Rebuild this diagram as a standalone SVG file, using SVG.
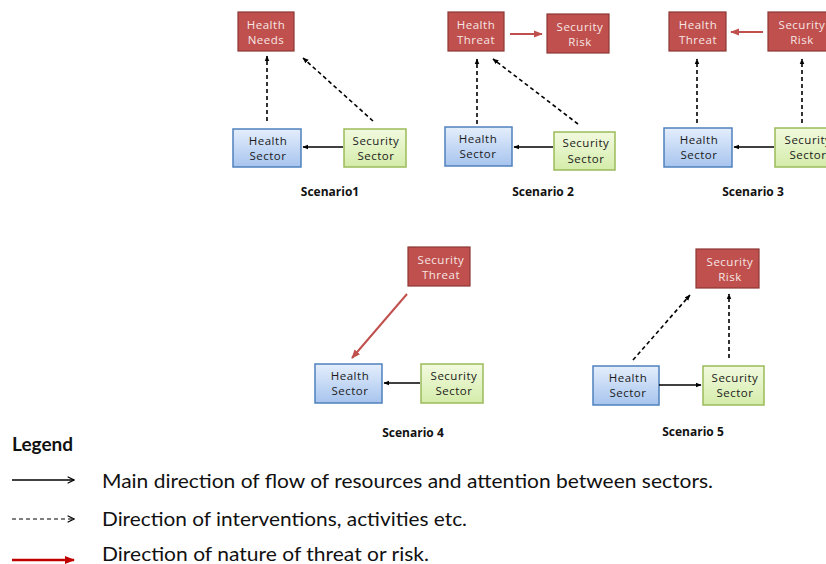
<svg xmlns="http://www.w3.org/2000/svg" width="826" height="564" viewBox="0 0 826 564">
<defs>
<linearGradient id="gb" x1="0" y1="0" x2="0" y2="1"><stop offset="0" stop-color="#e4eefc"/><stop offset="1" stop-color="#a7c4ee"/></linearGradient>
<linearGradient id="gg" x1="0" y1="0" x2="0" y2="1"><stop offset="0" stop-color="#f2fadf"/><stop offset="1" stop-color="#d4ecaa"/></linearGradient>
<marker id="ab" viewBox="0 0 10 10" refX="9" refY="5" markerWidth="6" markerHeight="6" orient="auto" markerUnits="userSpaceOnUse"><path d="M0,1 L10,5 L0,9 z" fill="#000"/></marker>
<marker id="ar" viewBox="0 0 10 10" refX="9" refY="5" markerWidth="9" markerHeight="9" orient="auto" markerUnits="userSpaceOnUse"><path d="M0,1 L10,5 L0,9 z" fill="#c0504d"/></marker>
<marker id="aopen" viewBox="0 0 10 10" refX="9" refY="5" markerWidth="8" markerHeight="8" orient="auto" markerUnits="userSpaceOnUse"><path d="M1,1 L9,5 L1,9" fill="none" stroke="#000" stroke-width="1.4"/></marker>
<marker id="ad" viewBox="0 0 10 10" refX="9" refY="5" markerWidth="10" markerHeight="10" orient="auto" markerUnits="userSpaceOnUse"><path d="M0,1 L10,5 L0,9 z" fill="#c00000"/></marker>
</defs>
<style>
.red{fill:#c0504d;stroke:#8c3836;stroke-width:1.2}
.blue{fill:url(#gb);stroke:#4f81bd;stroke-width:1.5}
.green{fill:url(#gg);stroke:#9bbb59;stroke-width:1.5}
.t{font-family:"Open Sans","Liberation Sans",sans-serif;font-size:11.5px;text-anchor:middle;letter-spacing:0.5px}
.tw{fill:#f6e6e5}
.tk{fill:#1a1a1a}
.sc{font-family:"Open Sans","Liberation Sans",sans-serif;font-size:12px;font-weight:bold;text-anchor:middle;fill:#111}
.solid{stroke:#000;stroke-width:1.5;fill:none;marker-end:url(#ab)}
.dash{stroke:#000;stroke-width:1.6;fill:none;stroke-dasharray:4,3;marker-end:url(#ab)}
.rarr{stroke:#c0504d;stroke-width:2;fill:none;marker-end:url(#ar)}
.leg{font-family:Lato,"Liberation Sans",sans-serif;font-size:19px;fill:#111}
</style>

<!-- Scenario 1 -->
<g id="s1-needs"><rect class="red" x="238" y="12" width="56" height="39"/><text class="t tw" x="266" y="29">Health</text><text class="t tw" x="266" y="44">Needs</text></g>
<g id="s1-health"><rect class="blue" x="233" y="129" width="68" height="38"/><text class="t tk" x="268" y="145">Health</text><text class="t tk" x="268" y="160">Sector</text></g>
<g id="s1-security"><rect class="green" x="344" y="129" width="62" height="38"/><text class="t tk" x="376" y="145">Security</text><text class="t tk" x="376" y="160">Sector</text></g>
<text class="sc" x="330" y="196">Scenario1</text>

<!-- Scenario 2 -->
<g id="s2-threat"><rect class="red" x="448" y="12" width="56" height="39"/><text class="t tw" x="476" y="29">Health</text><text class="t tw" x="476" y="44">Threat</text></g>
<g id="s2-risk"><rect class="red" x="547" y="14" width="62" height="39"/><text class="t tw" x="580" y="31">Security</text><text class="t tw" x="580" y="46">Risk</text></g>
<g id="s2-health"><rect class="blue" x="445" y="127" width="67" height="39"/><text class="t tk" x="478" y="143">Health</text><text class="t tk" x="478" y="158">Sector</text></g>
<g id="s2-security"><rect class="green" x="554" y="132" width="61" height="38"/><text class="t tk" x="586" y="147">Security</text><text class="t tk" x="586" y="163">Sector</text></g>
<text class="sc" x="543" y="196">Scenario 2</text>

<!-- Scenario 3 -->
<g id="s3-threat"><rect class="red" x="669" y="12" width="57" height="39"/><text class="t tw" x="698" y="29">Health</text><text class="t tw" x="698" y="44">Threat</text></g>
<g id="s3-risk"><rect class="red" x="768" y="12" width="62" height="39"/><text class="t tw" x="802" y="29">Security</text><text class="t tw" x="802" y="44">Risk</text></g>
<g id="s3-health"><rect class="blue" x="664" y="128" width="68" height="39"/><text class="t tk" x="699" y="144">Health</text><text class="t tk" x="699" y="159">Sector</text></g>
<g id="s3-security"><rect class="green" x="775" y="128" width="62" height="39"/><text class="t tk" x="808" y="144">Security</text><text class="t tk" x="808" y="159">Sector</text></g>
<text class="sc" x="753" y="196">Scenario 3</text>

<!-- Scenario 4 -->
<g id="s4-threat"><rect class="red" x="408" y="247" width="62" height="39"/><text class="t tw" x="441" y="264">Security</text><text class="t tw" x="441" y="279">Threat</text></g>
<g id="s4-health"><rect class="blue" x="315" y="364" width="67" height="39"/><text class="t tk" x="350" y="380">Health</text><text class="t tk" x="350" y="395">Sector</text></g>
<g id="s4-security"><rect class="green" x="421" y="364" width="62" height="39"/><text class="t tk" x="454" y="380">Security</text><text class="t tk" x="454" y="395">Sector</text></g>
<text class="sc" x="413" y="437">Scenario 4</text>

<!-- Scenario 5 -->
<g id="s5-risk"><rect class="red" x="696" y="249" width="63" height="39"/><text class="t tw" x="730" y="266">Security</text><text class="t tw" x="730" y="281">Risk</text></g>
<g id="s5-health"><rect class="blue" x="593" y="366" width="66" height="39"/><text class="t tk" x="628" y="382">Health</text><text class="t tk" x="628" y="397">Sector</text></g>
<g id="s5-security"><rect class="green" x="703" y="366" width="61" height="39"/><text class="t tk" x="735" y="382">Security</text><text class="t tk" x="735" y="397">Sector</text></g>
<text class="sc" x="693" y="436">Scenario 5</text>

<g id="connectors">
<line class="solid" x1="343" y1="147" x2="303" y2="147"/>
<line class="dash" x1="267" y1="121" x2="267" y2="56"/>
<line class="dash" x1="373" y1="121" x2="303" y2="58"/>

<line class="rarr" x1="510" y1="34" x2="542" y2="34"/>
<line class="solid" x1="553" y1="147" x2="514" y2="147"/>
<line class="dash" x1="477" y1="124" x2="477" y2="59"/>
<line class="dash" x1="578" y1="124" x2="493" y2="59"/>

<line class="rarr" x1="763" y1="32" x2="731" y2="32"/>
<line class="solid" x1="774" y1="147" x2="734" y2="147"/>
<line class="dash" x1="697" y1="123" x2="697" y2="59"/>
<line class="dash" x1="802" y1="123" x2="802" y2="59"/>

<line class="rarr" x1="407" y1="294" x2="352" y2="358"/>
<line class="solid" x1="420" y1="383" x2="384" y2="383"/>

<line class="solid" x1="659" y1="385" x2="701" y2="385"/>
<line class="dash" x1="633" y1="360" x2="690" y2="295"/>
<line class="dash" x1="729" y1="358" x2="729" y2="294"/>
</g>

<g id="legend">
<text x="12" y="451" font-family="Lato, Liberation Sans, sans-serif" font-size="19" font-weight="bold" fill="#111">Legend</text>
<line x1="12" y1="480" x2="74" y2="480" stroke="#000" stroke-width="1.5" marker-end="url(#aopen)"/>
<text class="leg" x="102" y="488" textLength="611" lengthAdjust="spacingAndGlyphs">Main direction of flow of resources and attention between sectors.</text>
<line x1="12" y1="519" x2="74" y2="519" stroke="#000" stroke-width="1" stroke-dasharray="4,3" marker-end="url(#aopen)"/>
<text class="leg" x="102" y="526" textLength="365" lengthAdjust="spacingAndGlyphs">Direction of interventions, activities etc.</text>
<line x1="12" y1="560" x2="74" y2="560" stroke="#c00000" stroke-width="2.5" marker-end="url(#ad)"/>
<text class="leg" x="102" y="561" textLength="327" lengthAdjust="spacingAndGlyphs">Direction of nature of threat or risk.</text>
</g>
</svg>
